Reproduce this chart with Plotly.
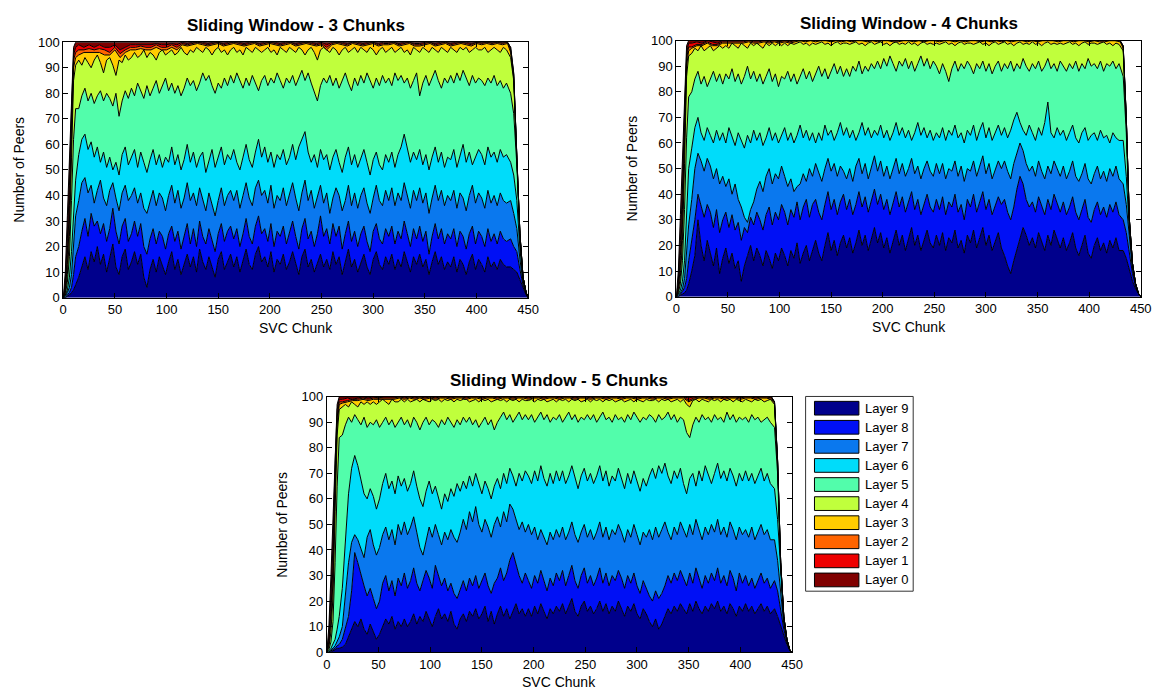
import plotly.graph_objects as go

# Sample positions along the stream (SVC chunk index).
# The main layer boundaries are sampled every 3 chunks, the thin top layers every 5.
CHUNK_FINE = [0, 2, 4, 6, 8, 10, 12] + list(range(15, 430, 3)) + [433, 436, 439, 442, 445, 448, 450]
CHUNK = [0, 2, 4, 6, 8, 10, 12] + list(range(15, 431, 5)) + [433, 436, 439, 442, 445, 448, 450]

LAYERS = ["Layer 9", "Layer 8", "Layer 7", "Layer 6", "Layer 5",
          "Layer 4", "Layer 3", "Layer 2", "Layer 1", "Layer 0"]
COLORS = ["#00008c", "#0010f5", "#0a78ee", "#00dcfa", "#52fdab",
          "#c0ff3c", "#ffcc00", "#ff6400", "#ee0000", "#800000"]

X_TICKS = [0, 50, 100, 150, 200, 250, 300, 350, 400, 450]
Y_TICKS = [0, 10, 20, 30, 40, 50, 60, 70, 80, 90, 100]

# ===== Sliding window of 3 chunks: cumulative peers, stacked from Layer 9 upward =====
W3_CUM9 = [0, 0, 0.5, 1, 2, 3, 5,
           8, 12, 16, 11, 18, 14, 20, 13, 17, 10,
           15, 21, 12, 9, 16, 19, 11, 14, 18, 13,
           17, 8, 4, 11, 15, 10, 16, 12, 9, 14,
           18, 11, 15, 9, 13, 17, 12, 16, 10, 19,
           14, 11, 16, 12, 8, 15, 18, 11, 14, 17,
           12, 16, 10, 14, 19, 13, 11, 17, 20, 14,
           16, 12, 18, 10, 15, 13, 17, 11, 14, 18,
           13, 9, 16, 19, 12, 15, 10, 14, 17, 12,
           15, 11, 18, 13, 16, 9, 14, 19, 12, 15,
           10, 14, 17, 12, 9, 15, 18, 13, 11, 16,
           13, 17, 11, 15, 12, 18, 14, 10, 16, 13,
           17, 12, 15, 9, 14, 18, 13, 16, 11, 14,
           12, 16, 10, 15, 13, 9, 14, 17, 11, 15,
           13, 10, 16, 12, 14, 11, 15, 13, 12,
           12, 11, 10, 7, 4, 1, 0]
W3_CUM8 = [0, 0, 1, 2, 4, 9, 16,
           20, 26, 31, 24, 33, 28, 30, 25, 29, 22,
           27, 35, 26, 21, 28, 31, 22, 25, 30, 24,
           29, 20, 17, 23, 27, 21, 26, 24, 19, 25,
           28, 22, 26, 19, 24, 29, 21, 27, 20, 30,
           24, 21, 27, 23, 18, 25, 29, 22, 26, 28,
           23, 27, 20, 25, 31, 24, 21, 28, 32, 25,
           27, 22, 29, 20, 26, 24, 28, 21, 25, 30,
           24, 19, 27, 31, 23, 26, 20, 25, 32, 24,
           27, 21, 29, 24, 28, 19, 25, 30, 22, 26,
           20, 25, 28, 22, 18, 26, 29, 23, 21, 27,
           24, 28, 21, 26, 23, 30, 25, 20, 27, 23,
           28, 22, 26, 17, 24, 29, 23, 27, 21, 25,
           23, 27, 20, 26, 24, 19, 25, 28, 21, 26,
           24, 20, 27, 22, 25, 21, 26, 23, 22,
           23, 20, 18, 11, 5, 1.5, 0]
W3_CUM7 = [0, 0.5, 2, 4, 9, 20, 32,
           38, 45, 47, 41, 44, 37, 42, 46, 39, 36,
           42, 45, 39, 34, 41, 44, 38, 40, 43, 37,
           41, 35, 33, 38, 42, 36, 41, 39, 34, 40,
           44, 37, 42, 35, 39, 45, 38, 41, 36, 43,
           39, 34, 41, 37, 32, 38, 43, 36, 40, 42,
           38, 42, 35, 40, 45, 39, 36, 43, 46, 40,
           42, 37, 44, 35, 40, 38, 43, 36, 41, 45,
           39, 34, 41, 46, 38, 42, 35, 40, 44, 37,
           41, 33, 39, 43, 40, 34, 38, 44, 36, 41,
           35, 40, 43, 37, 33, 39, 44, 38, 36, 42,
           38, 43, 36, 41, 38, 45, 40, 35, 42, 38,
           43, 37, 41, 33, 39, 44, 38, 42, 36, 40,
           38, 42, 35, 41, 39, 34, 40, 44, 37, 41,
           39, 35, 42, 37, 40, 36, 41, 38, 37,
           38, 33, 27, 15, 6, 2, 0]
W3_CUM6 = [0, 1, 3, 8, 18, 34, 46,
           56, 62, 64, 58, 61, 55, 59, 53, 57, 51,
           55, 50, 53, 48, 56, 59, 52, 55, 58, 51,
           57, 53, 49, 54, 58, 52, 56, 51, 55, 53,
           59, 52, 56, 50, 54, 60, 53, 57, 51, 55,
           57, 49, 53, 58, 51, 55, 59, 52, 56, 54,
           58, 53, 50, 55, 60, 54, 51, 57, 62, 55,
           59, 53, 57, 51, 56, 54, 58, 52, 55, 60,
           54, 59, 62, 65, 57, 53, 56, 51, 58, 54,
           56, 50, 55, 58, 53, 49, 55, 59, 52, 56,
           51, 55, 58, 53, 48, 54, 57, 52, 50, 56,
           53, 57, 51, 56, 59, 64, 58, 53, 57, 54,
           58, 52, 56, 50, 55, 59, 53, 57, 51, 55,
           54, 58, 51, 56, 60, 53, 57, 52, 55, 58,
           56, 52, 59, 55, 57, 53, 58, 55, 56,
           53, 48, 38, 19, 7, 2, 0]
W3_CUM5 = [0, 1.5, 6, 16, 38, 62, 74,
           74, 79, 82, 77, 80, 76, 79, 81, 77, 80,
           78, 75, 80, 71, 77, 81, 78, 82, 79, 84,
           81, 78, 83, 79, 82, 85, 80, 83, 86, 81,
           84, 80, 83, 79, 82, 86, 83, 85, 81, 84,
           88, 85, 87, 83, 80, 84, 82, 86, 83, 87,
           84, 88, 85, 82, 86, 83, 87, 84, 81, 85,
           87, 83, 86, 84, 88, 85, 82, 86, 84, 87,
           83, 86, 89, 85, 88, 84, 80, 77, 83, 86,
           84, 87, 83, 86, 82, 85, 88, 84, 81, 86,
           83, 87, 84, 88, 85, 82, 86, 83, 87, 84,
           86, 83, 88, 85, 87, 84, 86, 82, 85, 88,
           79, 84, 87, 83, 86, 89, 85, 82, 86, 84,
           87, 84, 88, 85, 89, 86, 83, 87, 84, 86,
           85, 83, 86, 84, 87, 83, 85, 82, 84,
           80, 72, 52, 24, 8, 2, 0]
W3_CUM4 = [0, 2, 9, 24, 55, 85, 91,
           93, 91, 94, 92, 90, 93, 95, 92, 88, 93,
           94, 91, 87, 93, 92, 95, 93, 94, 96, 94,
           95, 97, 94, 96, 95, 93, 96, 97, 95, 96,
           97, 95, 96, 98, 96, 95, 97, 96, 98, 97,
           96, 98, 97, 95, 97, 98, 96, 97, 95, 97,
           98, 96, 97, 95, 98, 97, 96, 98, 97, 96,
           97, 98, 96, 97, 95, 98, 97, 96, 98, 97,
           96, 98, 97, 95, 97, 98, 96, 93, 97, 98,
           97, 96, 98, 97, 95, 97, 98, 96, 97, 98,
           96, 98, 97, 96, 98, 97, 95, 97, 98, 96,
           97, 98, 96, 97, 98, 96, 97, 95, 98, 97,
           96, 98, 97, 96, 98, 97, 96, 98, 97, 96,
           98, 97, 96, 98, 97, 98, 96, 97, 98, 97,
           97, 98, 96, 97, 98, 97, 96, 98, 97,
           94, 85, 54, 25, 8, 2, 0]
W3_CUM3 = [0, 3, 13, 30, 62, 90, 94,
           95, 96, 96, 96, 96, 95, 95, 97, 94, 96,
           97, 97, 97.5, 97, 97, 98, 97, 97, 98, 97,
           99, 98.5, 99, 99.5, 99, 98.5, 99, 99.5, 98.5, 99,
           99.5, 99, 98.5, 99, 99.5, 98.5, 99, 99.5, 99, 98.5,
           99, 99.5, 98.5, 99, 99.5, 99, 98.5, 99, 97, 99,
           99.5, 99, 98.5, 99.5, 99, 98.5, 99, 99.5, 98.5, 99,
           99, 99.5, 98.5, 99, 99.5, 98.5, 98.5, 99, 99.5, 98.5,
           99, 99.5, 98.5, 99, 99.5, 99, 98.5, 99.5, 99, 99.5,
           99, 99.5, 99, 99.5,
           96, 86, 55, 25, 8, 2, 0]
W3_CUM2 = [0, 4, 17, 36, 68, 93, 96,
           97, 97, 97.5, 97, 97.5, 97, 96, 98, 95.5, 97,
           98, 98, 98.5, 98, 98, 99, 98, 98, 99, 98,
           99.5, 99, 99.5, 100, 99.5, 99, 99.5, 100, 99, 99.5,
           100, 99.5, 99, 99.5, 100, 99, 99.5, 100, 99.5, 99,
           99.5, 100, 99, 99.5, 100, 99.5, 99, 99.5, 98, 99.5,
           100, 99.5, 99, 100, 99.5, 99, 99.5, 100, 99, 99.5,
           99.5, 100, 99, 99.5, 100, 99, 99, 99.5, 100, 99,
           99.5, 100, 99, 99.5, 100, 99.5, 99, 100, 99.5, 100,
           99.5, 100, 99.5, 100,
           97, 87, 55, 25, 8, 2, 0]
W3_CUM1 = [0, 6, 23, 44, 74, 95, 98,
           99, 98, 99, 98, 99, 98, 98, 99, 97, 98,
           99, 99, 99, 99, 99, 99.5, 99, 99, 99.5, 99,
           100, 99.5, 100, 100, 100, 99.5, 100, 100, 99.5, 100,
           100, 100, 99.5, 100, 100, 99.5, 100, 100, 100, 99.5,
           100, 100, 99.5, 100, 100, 100, 99.5, 100, 99, 100,
           100, 100, 99.5, 100, 100, 99.5, 100, 100, 99.5, 100,
           100, 100, 99.5, 100, 100, 99.5, 99.5, 100, 100, 99.5,
           100, 100, 99.5, 100, 100, 100, 99.5, 100, 100, 100,
           100, 100, 100, 100,
           98, 87.5, 55, 25, 8, 2, 0]
W3_CUM0 = [0, 10, 32, 55, 80, 98, 100,
           100, 100, 100, 100, 100, 100, 100, 100, 100, 100,
           100, 100, 100, 100, 100, 100, 100, 100, 100, 100,
           100, 100, 100, 100, 100, 100, 100, 100, 100, 100,
           100, 100, 100, 100, 100, 100, 100, 100, 100, 100,
           100, 100, 100, 100, 100, 100, 100, 100, 100, 100,
           100, 100, 100, 100, 100, 100, 100, 100, 100, 100,
           100, 100, 100, 100, 100, 100, 100, 100, 100, 100,
           100, 100, 100, 100, 100, 100, 100, 100, 100, 100,
           100, 100, 100, 100,
           98, 88, 55, 25, 8, 2, 0]

# ===== Sliding window of 4 chunks =====
W4_CUM9 = [0, 0, 0.5, 1, 1.5, 2.5, 5,
           10, 16, 30, 20, 14, 22, 17, 12, 19, 9,
           15, 19, 13, 17, 11, 14, 6, 12, 16, 20,
           14, 19, 16, 12, 18, 15, 11, 17, 14, 19,
           16, 12, 18, 15, 21, 13, 17, 20, 14, 18,
           22, 17, 14, 20, 25, 18, 22, 16, 21, 24,
           19, 23, 17, 21, 26, 20, 24, 18, 22, 27,
           21, 25, 19, 23, 17, 22, 26, 20, 24, 18,
           23, 27, 20, 24, 18, 22, 26, 21, 19, 24,
           20, 25, 18, 23, 21, 26, 19, 22, 17, 24,
           21, 26, 19, 23, 27, 20, 24, 18, 22, 25,
           19, 16, 12, 9, 14, 18, 22, 27, 24, 20,
           23, 19, 25, 21, 18, 24, 20, 26, 22, 19,
           23, 18, 21, 25, 19, 16, 20, 24, 17, 15,
           20, 23, 18, 21, 17, 22, 19, 23, 18,
           18, 15, 10, 6, 3, 1, 0]
W4_CUM8 = [0, 0, 1, 2, 3.5, 7, 14,
           22, 30, 40, 35, 31, 36, 33, 27, 34, 25,
           30, 33, 27, 32, 26, 29, 22, 27, 25, 31,
           28, 33, 30, 26, 32, 35, 28, 33, 30, 36,
           33, 28, 34, 31, 37, 30, 35, 38, 31, 36,
           38, 33, 30, 36, 41, 34, 38, 32, 37, 40,
           34, 38, 32, 36, 41, 35, 39, 33, 37, 42,
           36, 40, 34, 38, 32, 37, 41, 35, 39, 33,
           37, 41, 34, 38, 32, 36, 40, 35, 33, 38,
           34, 39, 32, 37, 35, 40, 33, 36, 30, 38,
           35, 40, 33, 37, 41, 34, 38, 32, 36, 39,
           36, 38, 33, 30, 35, 42, 47, 44, 38, 35,
           37, 33, 39, 35, 32, 38, 34, 40, 36, 33,
           37, 32, 35, 39, 33, 30, 34, 38, 31, 29,
           34, 37, 32, 35, 31, 36, 33, 37, 32,
           30, 25, 16, 9, 4, 1, 0]
W4_CUM7 = [0, 0.5, 1.5, 3, 7, 16, 28,
           38, 50, 56, 53, 49, 54, 51, 46, 50, 44,
           47, 43, 46, 40, 44, 38, 35, 31, 29, 34,
           37, 42, 45, 41, 47, 50, 44, 48, 46, 51,
           47, 43, 46, 41, 43, 44, 48, 45, 50, 47,
           52, 48, 45, 50, 54, 49, 52, 47, 51, 49,
           46, 50, 45, 51, 54, 48, 52, 46, 50, 55,
           49, 53, 47, 51, 46, 50, 54, 48, 52, 47,
           50, 54, 48, 51, 46, 50, 53, 49, 47, 52,
           48, 52, 46, 50, 49, 53, 47, 51, 45, 50,
           49, 53, 47, 51, 55, 48, 52, 46, 50, 53,
           50, 53, 49, 46, 52, 56, 60, 57, 52, 49,
           51, 47, 53, 49, 46, 51, 48, 53, 50, 47,
           51, 46, 49, 53, 47, 45, 48, 52, 46, 44,
           48, 51, 46, 49, 45, 50, 47, 51, 46,
           44, 36, 22, 11, 4.5, 1, 0]
W4_CUM6 = [0, 1, 2.5, 6, 14, 32, 50,
           58, 66, 70, 64, 61, 66, 63, 60, 65, 61,
           64, 60, 66, 62, 59, 64, 61, 58, 63, 60,
           65, 61, 64, 59, 62, 66, 61, 64, 60, 63,
           66, 61, 64, 60, 63, 67, 62, 65, 61, 64,
           60, 64, 61, 67, 63, 65, 61, 64, 68, 63,
           66, 62, 65, 61, 64, 68, 63, 66, 62, 65,
           63, 67, 62, 65, 61, 64, 68, 63, 66, 62,
           65, 61, 64, 68, 63, 66, 62, 65, 61, 64,
           62, 66, 61, 65, 63, 67, 62, 64, 60, 65,
           63, 67, 61, 65, 68, 62, 66, 61, 64, 67,
           63, 66, 62, 65, 69, 72, 68, 65, 63, 67,
           64, 61, 66, 63, 68, 76, 64, 62, 66, 63,
           65, 61, 64, 67, 62, 60, 64, 66, 61, 63,
           64, 61, 65, 62, 63, 60, 64, 62, 61,
           61, 47, 26, 12, 5, 1, 0]
W4_CUM5 = [0, 1.5, 5, 14, 34, 62, 78,
           80, 85, 88, 83, 86, 82, 85, 88, 84, 87,
           83, 87, 85, 89, 84, 87, 83, 86, 90, 85,
           88, 84, 87, 83, 86, 89, 84, 87, 82, 86,
           85, 88, 84, 87, 83, 86, 89, 85, 88, 84,
           87, 90, 86, 89, 85, 88, 91, 87, 90, 86,
           89, 86, 90, 88, 92, 87, 90, 88, 91, 89,
           92, 89, 93, 90, 94, 91, 88, 92, 90, 93,
           89, 92, 88, 91, 94, 90, 93, 89, 92, 90,
           87, 91, 88, 84, 89, 92, 88, 91, 89, 92,
           90, 87, 91, 89, 92, 88, 91, 87, 90, 92,
           88, 91, 89, 92, 88, 91, 89, 93, 90, 88,
           91, 89, 92, 88, 90, 93, 89, 91, 88, 92,
           90, 88, 91, 89, 92, 88, 91, 89, 93, 90,
           91, 89, 92, 88, 91, 90, 92, 89, 91,
           86, 64, 29, 13, 5, 1, 0]
W4_CUM4 = [0, 2, 8, 22, 52, 86, 94,
           95, 97, 96, 98, 96, 97, 98, 96, 97, 98,
           97, 98, 97, 99, 98, 97, 99, 98, 97, 99,
           98, 99, 98, 97, 99, 98, 99, 98, 99, 98,
           99, 98, 99, 98.5, 99, 99.5, 98.5, 99, 98, 99,
           98.5, 99, 99.5, 98.5, 99, 98, 99, 99.5, 98.5, 99,
           99, 98.5, 99, 99.5, 98.5, 99, 98, 99, 99.5, 98.5,
           99, 99.5, 98.5, 99, 98, 99, 99.5, 98.5, 99, 98.5,
           99.5, 98.5, 99, 98, 99, 99.5, 98.5, 99, 98.5, 99,
           98.5, 99, 99.5, 98.5, 99, 98, 99, 99.5, 98.5, 99,
           99, 98.5, 99, 99.5, 98.5, 99, 98, 99, 99.5, 98.5,
           99, 99.5, 98.5, 99, 98, 99, 99.5, 98.5, 99, 98.5,
           99.5, 98.5, 99, 98, 99, 99.5, 98.5, 99, 98.5, 99,
           98.5, 99, 99.5, 98.5, 99, 98, 99, 99.5, 98.5, 99,
           99, 98.5, 99, 99.5, 98.5, 99, 98, 99, 98.5,
           96, 69, 30, 13, 5, 1, 0]
W4_CUM3 = [0, 3, 12, 28, 60, 90, 96,
           97, 98, 98, 99, 98, 98, 99, 99, 99, 99,
           99, 99.5, 99, 99, 99.5, 99, 99.5, 99, 99.5, 99,
           99.5, 100, 99.5, 100, 99.5, 100, 100, 99.5, 100, 99.5,
           100, 99.5, 100, 100, 99.5, 100, 99.5, 100, 100, 99.5,
           99.5, 100, 100, 99.5, 100, 99.5, 100, 100, 99.5, 100,
           100, 99.5, 100, 99.5, 100, 100, 99.5, 100, 99.5, 100,
           99.5, 100, 99.5, 100, 100, 99.5, 100, 99.5, 100, 100,
           100, 99.5, 100, 100, 99.5, 100, 100, 99.5, 100, 99.5,
           99.5, 100, 100, 99.5,
           97, 70, 30, 13, 5, 1, 0]
W4_CUM2 = [0, 4, 16, 34, 66, 93, 97.5,
           97.5, 98.5, 98.5, 99.5, 98.5, 98.5, 99.5, 99.5, 99.5, 99.5,
           99.5, 100, 99.5, 99.5, 100, 99.5, 100, 99.5, 100, 99.5,
           100, 100, 100, 100, 100, 100, 100, 100, 100, 100,
           100, 100, 100, 100, 100, 100, 100, 100, 100, 100,
           100, 100, 100, 100, 100, 100, 100, 100, 100, 100,
           100, 100, 100, 100, 100, 100, 100, 100, 100, 100,
           100, 100, 100, 100, 100, 100, 100, 100, 100, 100,
           100, 100, 100, 100, 100, 100, 100, 100, 100, 100,
           100, 100, 100, 100,
           97.5, 70, 30, 13, 5, 1, 0]
W4_CUM1 = [0, 6, 22, 42, 72, 95, 99,
           99, 99.5, 99, 100, 99.5, 99, 100, 100, 100, 100,
           100, 100, 100, 100, 100, 100, 100, 100, 100, 100,
           100, 100, 100, 100, 100, 100, 100, 100, 100, 100,
           100, 100, 100, 100, 100, 100, 100, 100, 100, 100,
           100, 100, 100, 100, 100, 100, 100, 100, 100, 100,
           100, 100, 100, 100, 100, 100, 100, 100, 100, 100,
           100, 100, 100, 100, 100, 100, 100, 100, 100, 100,
           100, 100, 100, 100, 100, 100, 100, 100, 100, 100,
           100, 100, 100, 100,
           98, 70, 30, 13, 5, 1, 0]
W4_CUM0 = [0, 10, 32, 54, 80, 98, 100,
           100, 100, 100, 100, 100, 100, 100, 100, 100, 100,
           100, 100, 100, 100, 100, 100, 100, 100, 100, 100,
           100, 100, 100, 100, 100, 100, 100, 100, 100, 100,
           100, 100, 100, 100, 100, 100, 100, 100, 100, 100,
           100, 100, 100, 100, 100, 100, 100, 100, 100, 100,
           100, 100, 100, 100, 100, 100, 100, 100, 100, 100,
           100, 100, 100, 100, 100, 100, 100, 100, 100, 100,
           100, 100, 100, 100, 100, 100, 100, 100, 100, 100,
           100, 100, 100, 100,
           98, 70, 30, 13, 5, 1, 0]

# ===== Sliding window of 5 chunks =====
W5_CUM9 = [0, 0, 0, 0.5, 1, 1.5, 1.5,
           2, 3, 6, 9, 12, 10, 13, 9, 7, 11,
           8, 5, 7, 10, 13, 11, 14, 9, 12, 10,
           13, 10, 12, 15, 11, 14, 12, 16, 13, 10,
           14, 17, 13, 15, 12, 16, 11, 9, 13, 15,
           12, 16, 14, 17, 13, 15, 18, 12, 16, 11,
           15, 18, 14, 17, 13, 16, 19, 15, 17, 14,
           17, 14, 18, 15, 19, 16, 13, 17, 15, 18,
           16, 19, 15, 18, 21, 16, 14, 18, 20, 16,
           18, 15, 17, 20, 16, 19, 15, 18, 16, 20,
           17, 14, 18, 16, 19, 15, 13, 17, 15, 12,
           10, 13, 9, 11, 14, 17, 15, 18, 16, 19,
           17, 15, 19, 16, 20, 17, 15, 18, 16, 19,
           17, 20, 16, 18, 15, 19, 17, 14, 18, 16,
           19, 16, 18, 15, 17, 19, 16, 18, 15,
           17, 14, 10, 6, 3, 0.5, 0]
W5_CUM8 = [0, 0, 0.5, 1, 1.5, 2.5, 3,
           5, 9, 14, 24, 39, 35, 30, 26, 22, 25,
           21, 17, 20, 27, 30, 24, 28, 22, 29, 26,
           31, 25, 28, 33, 27, 24, 28, 32, 29, 25,
           34, 30, 26, 29, 24, 27, 23, 21, 25, 28,
           24, 29, 26, 30, 25, 28, 31, 26, 23, 27,
           29, 33, 28, 31, 36, 39, 34, 30, 27, 31,
           28, 25, 30, 27, 32, 28, 24, 29, 26, 31,
           28, 32, 26, 30, 34, 28, 25, 30, 33, 27,
           30, 26, 29, 33, 27, 31, 26, 30, 28, 32,
           29, 25, 30, 27, 31, 26, 23, 28, 25, 22,
           20, 24, 21, 23, 26, 30, 27, 31, 28, 32,
           29, 26, 31, 27, 33, 29, 25, 30, 27, 31,
           28, 33, 27, 30, 26, 32, 29, 24, 31, 27,
           30, 26, 29, 25, 28, 31, 27, 29, 25,
           28, 24, 16, 9, 4, 0.5, 0]
W5_CUM7 = [0, 0, 1, 1.5, 2.5, 4, 6,
           10, 22, 35, 43, 46, 44, 40, 37, 45, 48,
           42, 38, 41, 46, 49, 44, 48, 42, 50, 46,
           51, 46, 49, 53, 47, 41, 38, 44, 49, 45,
           50, 46, 42, 47, 44, 48, 45, 43, 47, 52,
           48, 55, 51, 57, 50, 47, 52, 49, 45, 50,
           53, 49, 55, 51, 58, 56, 52, 48, 51, 47,
           50, 46, 49, 44, 48, 45, 42, 47, 44, 48,
           45, 49, 44, 47, 51, 46, 43, 47, 50, 45,
           48, 44, 47, 51, 45, 49, 44, 48, 46, 50,
           47, 43, 48, 45, 50, 46, 42, 47, 45, 48,
           44, 49, 45, 48, 51, 47, 44, 49, 46, 51,
           48, 45, 50, 46, 52, 48, 44, 49, 46, 50,
           47, 52, 46, 49, 45, 51, 48, 44, 49, 46,
           48, 45, 49, 44, 47, 50, 46, 48, 44,
           44, 36, 24, 11, 4.5, 0.5, 0]
W5_CUM6 = [0, 0.5, 1.5, 3, 5, 9, 14,
           25, 45, 62, 72, 77, 73, 68, 62, 60, 64,
           61, 56, 60, 66, 70, 64, 67, 62, 69, 65,
           68, 63, 66, 71, 65, 60, 57, 63, 67, 62,
           65, 60, 56, 62, 59, 64, 61, 66, 63, 67,
           64, 69, 65, 70, 66, 62, 67, 64, 60, 65,
           68, 64, 70, 66, 72, 69, 65, 70, 67, 71,
           69, 66, 71, 67, 73, 68, 65, 70, 66, 71,
           67, 71, 66, 69, 73, 68, 64, 69, 72, 67,
           70, 66, 69, 73, 67, 71, 65, 69, 67, 72,
           68, 64, 70, 66, 71, 67, 63, 68, 65, 69,
           72, 68, 73, 70, 74, 69, 66, 71, 68, 72,
           66, 62, 68, 70, 65, 71, 67, 73, 69, 66,
           70, 74, 68, 71, 67, 72, 69, 65, 70, 67,
           71, 67, 70, 66, 69, 72, 67, 70, 66,
           64, 52, 30, 12.5, 5, 0.5, 0]
W5_CUM5 = [0, 1, 4, 12, 35, 65, 84,
           85, 89, 92, 90, 93, 91, 89, 92, 88, 90,
           89, 91, 88, 90, 92, 89, 91, 88, 90, 92,
           89, 91, 88, 92, 90, 87, 90, 92, 89, 91,
           90, 88, 91, 89, 92, 90, 88, 91, 89, 92,
           90, 92, 89, 91, 88, 90, 92, 89, 91, 87,
           90, 92, 94, 91, 93, 90, 92, 94, 91, 93,
           91, 93, 90, 92, 94, 91, 93, 90, 92, 91,
           93, 90, 92, 94, 91, 93, 90, 92, 91, 93,
           91, 93, 90, 92, 94, 91, 92, 90, 93, 91,
           92, 90, 93, 91, 94, 92, 90, 92, 91, 93,
           92, 90, 93, 91, 92, 94, 91, 93, 90, 92,
           91, 86, 84, 89, 92, 90, 93, 91, 92, 90,
           93, 91, 92, 90, 94, 91, 93, 90, 92, 91,
           92, 90, 93, 91, 92, 90, 91, 92, 90,
           88, 70, 34, 13.5, 5, 0.5, 0]
W5_CUM4 = [0, 2, 8, 22, 55, 85, 95,
           96, 97, 96, 98, 97, 96, 98, 97, 98, 97,
           98, 97, 98, 99, 98, 97, 99, 98, 98, 99,
           98, 99, 98, 98.5, 99, 98, 99, 98.5, 98, 99,
           98.5, 99, 98, 99, 98.5, 99, 98, 99, 98.5, 99,
           99, 98, 98.5, 99, 98, 99, 98.5, 99, 98, 98.5,
           99, 98.5, 99, 98, 99, 98.5, 99, 98, 99, 98.5,
           98.5, 99, 98, 99, 98.5, 99, 98, 98.5, 99, 98,
           99, 98.5, 99, 98, 99, 98.5, 99, 98, 98.5, 99,
           98, 99, 98.5, 99, 98, 99, 98.5, 99, 98, 98.5,
           99, 98, 98.5, 99, 98, 99, 98.5, 98, 99, 98.5,
           98.5, 99, 98, 99, 98.5, 99, 98, 98.5, 99, 98,
           99, 97, 96, 98.5, 99, 98, 99, 98.5, 98, 99,
           98.5, 99, 98, 99, 98.5, 99, 98, 99, 98.5, 98,
           99, 98.5, 98, 99, 98.5, 99, 98, 98.5, 99,
           97, 74, 35, 14, 5, 0.5, 0]
W5_CUM3 = [0, 3, 12, 28, 62, 89, 97,
           97.5, 98, 98.5, 98.5, 99, 98.5, 99, 99, 99, 99,
           99, 99.5, 99, 99.5, 99, 99.5, 99, 99.5, 99, 99.5,
           99.5, 99, 99.5, 99.5, 99, 99.5, 99.5, 99, 99.5, 99.5,
           99, 99.5, 99.5, 99, 99.5, 99.5, 99, 99.5, 99.5, 99,
           99.5, 99.5, 99, 99.5, 99.5, 99, 99.5, 99.5, 99, 99.5,
           99.5, 99, 99.5, 99.5, 99, 99.5, 99.5, 99, 99.5, 99.5,
           99, 99.5, 99.5, 99, 99.5, 99.5, 99.5, 98, 99, 99.5,
           99.5, 99, 99.5, 99.5, 99, 99.5, 99.5, 99, 99.5, 99.5,
           99, 99.5, 99.5, 99,
           97.5, 74.5, 35, 14, 5, 0.5, 0]
W5_CUM2 = [0, 4, 16, 34, 68, 92, 98,
           98, 98.5, 99, 99, 99.5, 99, 99.5, 99.5, 99.5, 99.5,
           99.5, 100, 99.5, 100, 99.5, 100, 99.5, 100, 99.5, 100,
           100, 99.5, 100, 100, 99.5, 100, 100, 99.5, 100, 100,
           99.5, 100, 100, 99.5, 100, 100, 99.5, 100, 100, 99.5,
           100, 100, 99.5, 100, 100, 99.5, 100, 100, 99.5, 100,
           100, 99.5, 100, 100, 99.5, 100, 100, 99.5, 100, 100,
           99.5, 100, 100, 99.5, 100, 100, 100, 98.5, 99.5, 100,
           100, 99.5, 100, 100, 99.5, 100, 100, 99.5, 100, 100,
           99.5, 100, 100, 99.5,
           98, 75, 35, 14, 5, 0.5, 0]
W5_CUM1 = [0, 6, 22, 42, 74, 95, 99,
           99, 99.5, 99, 99.5, 100, 99.5, 100, 99.5, 100, 100,
           100, 100, 100, 100, 100, 100, 100, 100, 100, 100,
           100, 100, 100, 100, 100, 100, 100, 100, 100, 100,
           100, 100, 100, 100, 100, 100, 100, 100, 100, 100,
           100, 100, 100, 100, 100, 100, 100, 100, 100, 100,
           100, 100, 100, 100, 100, 100, 100, 100, 100, 100,
           100, 100, 100, 100, 100, 100, 100, 99.5, 100, 100,
           100, 100, 100, 100, 100, 100, 100, 100, 100, 100,
           100, 100, 100, 100,
           98, 75, 35, 14, 5, 0.5, 0]
W5_CUM0 = [0, 10, 30, 52, 80, 97, 100,
           100, 100, 100, 100, 100, 100, 100, 100, 100, 100,
           100, 100, 100, 100, 100, 100, 100, 100, 100, 100,
           100, 100, 100, 100, 100, 100, 100, 100, 100, 100,
           100, 100, 100, 100, 100, 100, 100, 100, 100, 100,
           100, 100, 100, 100, 100, 100, 100, 100, 100, 100,
           100, 100, 100, 100, 100, 100, 100, 100, 100, 100,
           100, 100, 100, 100, 100, 100, 100, 100, 100, 100,
           100, 100, 100, 100, 100, 100, 100, 100, 100, 100,
           100, 100, 100, 100,
           98, 75, 35, 14, 5, 0.5, 0]

W3 = [W3_CUM9, W3_CUM8, W3_CUM7, W3_CUM6, W3_CUM5, W3_CUM4, W3_CUM3, W3_CUM2, W3_CUM1, W3_CUM0]
W4 = [W4_CUM9, W4_CUM8, W4_CUM7, W4_CUM6, W4_CUM5, W4_CUM4, W4_CUM3, W4_CUM2, W4_CUM1, W4_CUM0]
W5 = [W5_CUM9, W5_CUM8, W5_CUM7, W5_CUM6, W5_CUM5, W5_CUM4, W5_CUM3, W5_CUM2, W5_CUM1, W5_CUM0]


def grid_for(k):
    # Layers 9..4 are sampled on the fine grid, layers 3..0 on the coarse one
    return CHUNK_FINE if k < 6 else CHUNK


for group in (W3, W4, W5):
    for k, series in enumerate(group):
        assert len(series) == len(grid_for(k)), (k, len(series))

FIG_W, FIG_H = 1171, 699
FONT = "Liberation Sans, Arial, Helvetica, sans-serif"


def fx(px):
    return px / FIG_W


def fy(px):
    return 1 - px / FIG_H


# (title, data, axis suffix, plot box in pixels: left, right, top, bottom)
PANELS = [
    ("Sliding Window - 3 Chunks", W3, "", (60, 531, 36, 297)),
    ("Sliding Window - 4 Chunks", W4, "2", (681, 1151.5, 34.3, 296)),
    ("Sliding Window - 5 Chunks", W5, "3", (327, 798.3, 398.3, 659.3)),
]

fig = go.Figure()
annotations = []
axis_style = dict(
    showline=True, linecolor="black", linewidth=1, mirror="ticks",
    ticks="inside", ticklen=5, tickcolor="black", tickwidth=1,
    showgrid=False, zeroline=False,
    tickfont=dict(family=FONT, size=13, color="black"),
)


def label(text, x, y, size, angle=0, xanchor="center"):
    return dict(text=text, x=fx(x), y=fy(y), xref="paper", yref="paper",
                xanchor=xanchor, yanchor="middle", showarrow=False,
                textangle=angle, font=dict(family=FONT, size=size, color="black"))


for title, cums, sfx, (left, right, top, bottom) in PANELS:
    xa, ya = "x" + sfx, "y" + sfx
    for k, y in enumerate(cums):
        fig.add_trace(go.Scatter(
            x=grid_for(k), y=y, mode="lines",
            line=dict(color="black", width=1),
            fill="tozeroy" if k == 0 else "tonexty",
            fillcolor=COLORS[k], name=LAYERS[k],
            showlegend=False, hoverinfo="skip",
            xaxis=xa, yaxis=ya,
        ))
    fig.update_layout(**{
        "xaxis" + sfx: dict(domain=[fx(left), fx(right)], range=[0, 450],
                            tickvals=X_TICKS, anchor=ya, **axis_style),
        "yaxis" + sfx: dict(domain=[fy(bottom), fy(top)], range=[0, 100],
                            tickvals=Y_TICKS, anchor=xa, **axis_style),
    })
    cx = (left + right) / 2
    cy = (top + bottom) / 2
    annotations.append(label("<b>" + title + "</b>", cx, top - 17, 17))
    annotations.append(label("SVC Chunk", cx, bottom + 31, 14))
    annotations.append(label("Number of Peers", left - 45, cy, 14, angle=-90))

# Legend box with swatches, Layer 9 on top
shapes = [dict(type="rect", xref="paper", yref="paper",
               x0=fx(812), x1=fx(921), y0=fy(597), y1=fy(398),
               line=dict(color="#333333", width=1), fillcolor="white")]
for i, name in enumerate(LAYERS):
    top_px = 403 + i * 19.5
    shapes.append(dict(type="rect", xref="paper", yref="paper",
                       x0=fx(821), x1=fx(866), y0=fy(top_px + 14), y1=fy(top_px),
                       line=dict(color="black", width=1), fillcolor=COLORS[i]))
    annotations.append(label(name, 870, top_px + 7, 13, xanchor="left"))

fig.update_layout(
    width=FIG_W, height=FIG_H,
    margin=dict(l=0, r=0, t=0, b=0),
    paper_bgcolor="white", plot_bgcolor="white",
    showlegend=False,
    annotations=annotations, shapes=shapes,
)

fig.write_html("out.html")
